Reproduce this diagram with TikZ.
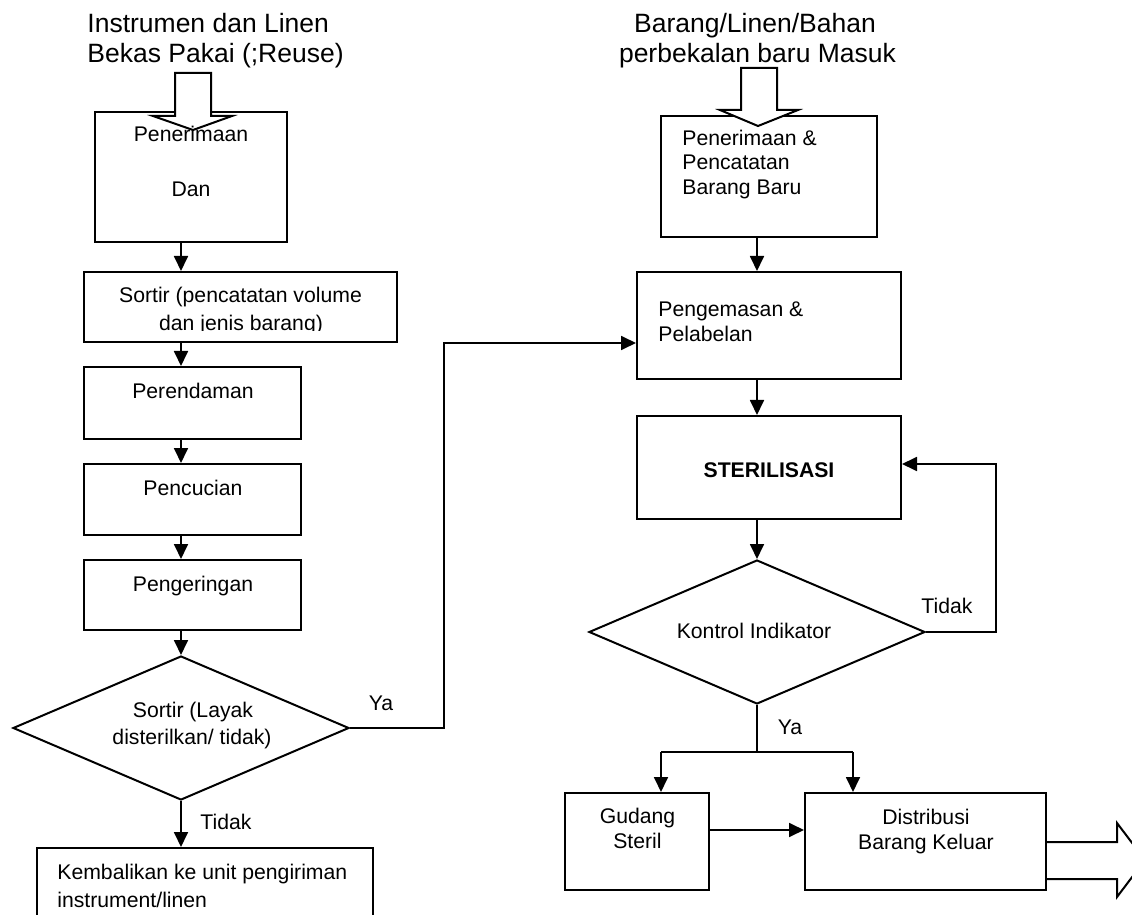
\documentclass[tikz,border=0pt]{standalone}
\usepackage{fontspec}
\setmainfont{Liberation Sans}
\usetikzlibrary{arrows.meta,shapes.geometric}
\begin{document}
\begin{tikzpicture}[x=0.5pt,y=-0.5pt,
  box/.style={draw,line width=1pt,rectangle,inner sep=0},
  dia/.style={draw,line width=1pt,diamond,inner sep=0},
  arr/.style={line width=0.9pt,-{Triangle[length=7.5pt,width=7pt]}},
  ln/.style={line width=0.9pt},
  blk/.style={draw,line width=1pt,fill=white,line join=miter},
  txt/.style={inner sep=0,font=\fontsize{10.6}{12.7}\selectfont},
  ttl/.style={inner sep=0,font=\fontsize{13.25}{15}\selectfont}]
\useasboundingbox (0,0) rectangle (1132,915);
\clip (0,0) rectangle (1132,915);
\fill[white] (0,0) rectangle (1132,915);

% ---- boxes left
\node[box,minimum width=96pt,minimum height=65pt] (pen1) at (191,177) {};
\node[box,minimum width=156.5pt,minimum height=35pt] (sortir1) at (240.5,307) {};
\node[box,minimum width=108.5pt,minimum height=36pt] (rendam) at (192.5,403) {};
\node[box,minimum width=108.5pt,minimum height=35.5pt] (cuci) at (192.5,499.5) {};
\node[box,minimum width=108.5pt,minimum height=35pt] (kering) at (192.5,595) {};
\node[dia,minimum width=168pt,minimum height=72pt] (dia1) at (181,728) {};
\node[box,minimum width=168pt,minimum height=41pt] (kembali) at (205,889) {};
% ---- boxes right
\node[box,minimum width=108pt,minimum height=60.5pt] (pen2) at (769,176.5) {};
\node[box,minimum width=132pt,minimum height=53.5pt] (kemas) at (769,325.5) {};
\node[box,minimum width=132pt,minimum height=51.5pt] (steril) at (769,467.5) {};
\node[dia,minimum width=168pt,minimum height=72pt] (dia2) at (757,632) {};
\node[box,minimum width=72pt,minimum height=48.5pt] (gudang) at (637,841.5) {};
\node[box,minimum width=120.5pt,minimum height=48.5pt] (distr) at (925.5,841.5) {};

% ---- connectors
\coordinate (cL) at (181,0);
\coordinate (cR) at (757,0);
\draw[arr] (pen1.south -| cL) -- (sortir1.north -| cL);
\draw[arr] (sortir1.south -| cL) -- (rendam.north -| cL);
\draw[arr] (rendam.south -| cL) -- (cuci.north -| cL);
\draw[arr] (cuci.south -| cL) -- (kering.north -| cL);
\draw[arr] (kering.south -| cL) -- (dia1.north);
\draw[arr] (dia1.south) -- (kembali.north -| cL);
\coordinate (yaTop) at (444,343);
\draw[arr] (dia1.east) -| (yaTop) -- (yaTop -| kemas.west);
\draw[arr] (pen2.south -| cR) -- (kemas.north -| cR);
\draw[arr] (kemas.south -| cR) -- (steril.north -| cR);
\draw[arr] (steril.south -| cR) -- (dia2.north);
\coordinate (fb) at (996,464);
\draw[arr] (dia2.east) -| (fb) -- (fb -| steril.east);
\coordinate (br) at (757,752);
\coordinate (brL) at (661,752);
\coordinate (brR) at (853,752);
\draw[ln] (dia2.south) -- (br);
\draw[ln] (brL) -- (brR);
\draw[arr] (brL) -- (brL |- gudang.north);
\draw[arr] (brR) -- (brR |- distr.north);
\coordinate (gd) at (709,830);
\draw[arr] (gudang.east |- gd) -- (distr.west |- gd);

% ---- block arrows
\draw[blk] (175,73) -- (211,73) -- (211,116) -- (232,116) -- (193,130) -- (153,116) -- (175,116) -- cycle;
\draw[blk] (741,68) -- (777,68) -- (777,110) -- (798,110) -- (758,126) -- (720,110) -- (741,110) -- cycle;
\draw[blk] (distr.east |- 0,842) -- (1117,842) -- (1117,823) -- (1145,860) -- (1117,897) -- (1117,879) -- (distr.east |- 0,879);

% ---- titles
\node[ttl,anchor=base west] (t1a) at (87,33) {Instrumen dan Linen};
\node[ttl,anchor=base west] (t1b) at (87,63) {Bekas Pakai (;Reuse)};
\node[ttl,anchor=base] (t2a) at (755,33) {Barang/Linen/Bahan};
\node[ttl,anchor=base] (t2b) at (757.5,63) {perbekalan baru Masuk};

% ---- box texts left
\node[txt,anchor=base] (x1) at (191,142) {Penerimaan};
\node[txt,anchor=base] (x2) at (191,197) {Dan};
\node[txt,anchor=base] (x3) at (240.5,303) {Sortir (pencatatan volume};
\begin{scope}
\clip (84,272) rectangle (397,331);
\node[txt,anchor=base] (x4) at (241,330) {dan jenis barang)};
\end{scope}
\node[txt,anchor=base] (x5) at (193,399) {Perendaman};
\node[txt,anchor=base] (x6) at (193,495) {Pencucian};
\node[txt,anchor=base] (x7) at (193,591) {Pengeringan};
\node[txt,anchor=base] (x8) at (193,717) {Sortir (Layak};
\node[txt,anchor=base] (x9) at (192,744) {disterilkan/ tidak)};
\node[txt,anchor=base] (ya1) at (381,710) {Ya};
\node[txt,anchor=base] (td1) at (226,829) {Tidak};
\node[txt,anchor=base west] (x10) at (57,879) {Kembalikan ke unit pengiriman};
\node[txt,anchor=base west] (x11) at (57,907) {instrument/linen};

% ---- box texts right
\node[txt,anchor=base west] (y1) at (682,146) {Penerimaan \&};
\node[txt,anchor=base west] (y2) at (682,170) {Pencatatan};
\node[txt,anchor=base west] (y3) at (682,195) {Barang Baru};
\node[txt,anchor=base west] (y4) at (658,317) {Pengemasan \&};
\node[txt,anchor=base west] (y5) at (658,342) {Pelabelan};
\node[txt,anchor=base,font=\fontsize{10.6}{12.7}\selectfont\bfseries] (y6) at (769,478) {STERILISASI};
\node[txt,anchor=base] (y7) at (754,638) {Kontrol Indikator};
\node[txt,anchor=base] (td2) at (947,613) {Tidak};
\node[txt,anchor=base] (ya2) at (790,734) {Ya};
\node[txt,anchor=base] (y8) at (637.5,823) {Gudang};
\node[txt,anchor=base] (y9) at (637.5,848) {Steril};
\node[txt,anchor=base] (y10) at (926,824) {Distribusi};
\node[txt,anchor=base] (y11) at (926,849) {Barang Keluar};
\end{tikzpicture}
\end{document}
